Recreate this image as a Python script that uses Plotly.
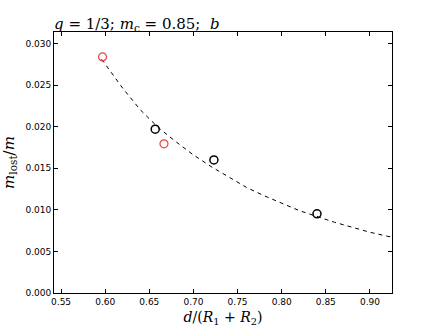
import plotly.graph_objects as go

# measured points
x_black = [0.6567, 0.7232, 0.840]
y_black = [0.0197, 0.0160, 0.00952]
x_red = [0.597, 0.6666]
y_red = [0.02838, 0.01793]

# dashed fit curve
x_fit = [0.596, 0.62, 0.64, 0.66, 0.68, 0.70, 0.72, 0.74, 0.76, 0.78, 0.80,
         0.82, 0.84, 0.86, 0.88, 0.90, 0.925]
y_fit = [0.0281, 0.0246, 0.0220, 0.0199, 0.0182, 0.0166, 0.0152, 0.0139, 0.0127,
         0.0117, 0.0108, 0.0099, 0.0092, 0.0085, 0.0079, 0.0073, 0.0067]

xticks = [0.55, 0.60, 0.65, 0.70, 0.75, 0.80, 0.85, 0.90]
yticks = [0.000, 0.005, 0.010, 0.015, 0.020, 0.025, 0.030]

serif = "DejaVu Serif"
tickfont = dict(family="DejaVu Sans", size=9, color="black")

fig = go.Figure()
fig.add_trace(go.Scatter(x=x_fit, y=y_fit, mode="lines",
                         line=dict(color="black", width=1, dash="4px,4px"),
                         showlegend=False))
fig.add_trace(go.Scatter(x=x_black, y=y_black, mode="markers",
                         marker=dict(symbol="circle-open", size=8, color="black",
                                     line=dict(width=1.5, color="black")),
                         showlegend=False))
fig.add_trace(go.Scatter(x=x_red, y=y_red, mode="markers",
                         marker=dict(symbol="circle-open", size=8, color="#f04040",
                                     line=dict(width=1.2, color="#f04040")),
                         showlegend=False))

axis = dict(showgrid=False, zeroline=False, showline=True, linecolor="black",
            linewidth=1, mirror="ticks", ticks="inside", ticklen=4,
            tickcolor="black", tickfont=tickfont, automargin=False)

fig.update_layout(
    width=436, height=327,
    margin=dict(l=54, r=44, t=32, b=34),
    plot_bgcolor="white", paper_bgcolor="white",
    xaxis=dict(axis, range=[0.542, 0.925], tickvals=xticks,
               ticktext=["%.2f" % v for v in xticks],
               title=dict(text="<i>d</i>/(<i>R</i><sub>1</sub> + <i>R</i><sub>2</sub>)",
                          font=dict(family=serif, size=14, color="black"))),
    yaxis=dict(axis, range=[0, 0.03138], tickvals=yticks,
               ticktext=["%.3f" % v for v in yticks],
               title=dict(text="<i>m</i><sub>lost</sub>/<i>m</i>",
                          font=dict(family=serif, size=15, color="black"))),
    title=dict(text="<i>q</i> = 1/3; <i>m</i><sub>c</sub> = 0.85;  <i>b</i>",
               font=dict(family=serif, size=15, color="black"),
               x=54 / 436, xanchor="left", y=1 - 24 / 327, yanchor="middle"),
)

# page body has a default 8px margin; drop it so the figure sits at 0,0
fig.write_html("out.html", config={"displayModeBar": False},
               post_script="document.body.style.margin='0';")
